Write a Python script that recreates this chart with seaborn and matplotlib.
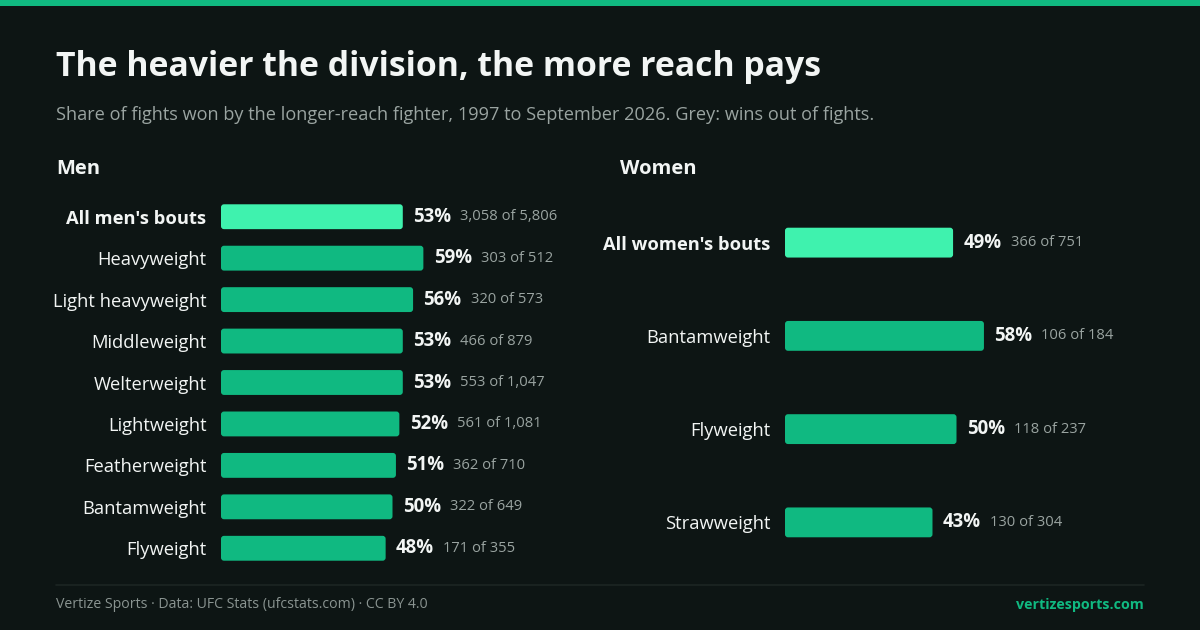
import matplotlib
matplotlib.use("Agg")
import matplotlib.pyplot as plt
import seaborn as sns
import pandas as pd
from matplotlib.patches import FancyBboxPatch

# data
men_labels = ["All men's bouts", "Heavyweight", "Light heavyweight", "Middleweight",
              "Welterweight", "Lightweight", "Featherweight", "Bantamweight", "Flyweight"]
men_pct = [53, 59, 56, 53, 53, 52, 51, 50, 48]
men_wins = ["3,058", "303", "320", "466", "553", "561", "362", "322", "171"]
men_fights = ["5,806", "512", "573", "879", "1,047", "1,081", "710", "649", "355"]

women_labels = ["All women's bouts", "Bantamweight", "Flyweight", "Strawweight"]
women_pct = [49, 58, 50, 43]
women_wins = ["366", "106", "118", "130"]
women_fights = ["751", "184", "237", "304"]

BG = "#0d1514"
GREEN = "#10b981"
HILITE = "#3ff2ae"
WHITE = "#f2f5f4"
GREY = "#9aa4a1"
DIM = "#8a9491"

W, H = 1200, 630
PX_PER_PCT = 3.43

sns.set_theme(style="white")
plt.rcParams['font.family'] = ["Open Sans", "DejaVu Sans"]

fig = plt.figure(figsize=(12, 6.3), dpi=100, facecolor=BG)


def fx(px):
    return px / W


def fy(py):
    return 1 - py / H


def round_bars(ax, radius_px=3):
    # swap seaborn's square bars for rounded ones of the same size
    fig.canvas.draw()
    inv = ax.transData.inverted()
    p0 = inv.transform((0, 0))
    p1 = inv.transform((1, 1))
    ux = abs(p1[0] - p0[0])
    uy = abs(p1[1] - p0[1])
    for p in list(ax.patches):
        x, y = p.get_x(), p.get_y()
        w, h = p.get_width(), p.get_height()
        fb = FancyBboxPatch((x, y), w, h,
                            boxstyle=f"round,pad=0,rounding_size={radius_px * ux}",
                            mutation_aspect=uy / ux,
                            facecolor=p.get_facecolor(), edgecolor="none")
        p.remove()
        ax.add_patch(fb)


def panel(left_px, labels, pct, wins, fights, bar_width):
    ax = fig.add_axes([fx(left_px), fy(569), 300 / W, (569 - 196) / H])
    df = pd.DataFrame({"label": labels, "pct": pct})
    colors = [HILITE] + [GREEN] * (len(labels) - 1)
    sns.barplot(data=df, x="pct", y="label", hue="label", palette=colors,
                orient="h", width=bar_width, saturation=1, legend=False, ax=ax)
    ax.set_xlim(0, 300 / PX_PER_PCT)
    ax.set_ylim(len(labels) - 0.5, -0.5)
    ax.set_facecolor(BG)
    for s in ax.spines.values():
        s.set_visible(False)
    ax.set_xticks([])
    ax.set_xlabel("")
    ax.set_ylabel("")
    ax.tick_params(axis="y", length=0, pad=10.5, labelsize=13.2, labelcolor=WHITE)
    ax.get_yticklabels()[0].set_fontweight("bold")
    round_bars(ax)

    renderer = fig.canvas.get_renderer()
    for i, (v, w_, f_) in enumerate(zip(pct, wins, fights)):
        t = ax.annotate(f"{v}%", (v, i), xytext=(7.5, 0), textcoords="offset points",
                        ha="left", va="center", fontsize=13.4, fontweight="bold",
                        color=WHITE)
        bb = t.get_window_extent(renderer)
        x_data = ax.transData.inverted().transform((bb.x1 + 9, 0))[0]
        ax.text(x_data, i, f"{w_} of {f_}", ha="left", va="center",
                fontsize=10.6, color=GREY)
    return ax


# top accent stripe
fig.patches.append(plt.Rectangle((0, fy(6)), 1, 6 / H, transform=fig.transFigure,
                                 facecolor=GREEN, edgecolor="none"))

fig.text(fx(56), fy(67), "The heavier the division, the more reach pays",
         fontsize=24.3, fontweight="bold", color=WHITE, va="center", ha="left")
fig.text(fx(56), fy(115),
         "Share of fights won by the longer-reach fighter, 1997 to September 2026. Grey: wins out of fights.",
         fontsize=13.05, color=GREY, va="center", ha="left")

fig.text(fx(56), fy(169), "Men", fontsize=14.5, fontweight="bold", color=WHITE,
         va="center", ha="left")
fig.text(fx(620), fy(169), "Women", fontsize=14.5, fontweight="bold", color=WHITE,
         va="center", ha="left")

panel(221, men_labels, men_pct, men_wins, men_fights, 0.6)
panel(785, women_labels, women_pct, women_wins, women_fights, 0.32)

# footer
fig.add_artist(plt.Line2D([fx(56), fx(1144)], [fy(585), fy(585)], color="#1c2523",
                          linewidth=1.2, transform=fig.transFigure))
fig.text(fx(56), fy(605), "Vertize Sports · Data: UFC Stats (ufcstats.com) · CC BY 4.0",
         fontsize=10.2, color=DIM, va="center", ha="left")
fig.text(fx(1144), fy(605), "vertizesports.com", fontsize=10.3, fontweight="bold",
         color=GREEN, va="center", ha="right")

fig.savefig("out.png", dpi=100, facecolor=BG)
